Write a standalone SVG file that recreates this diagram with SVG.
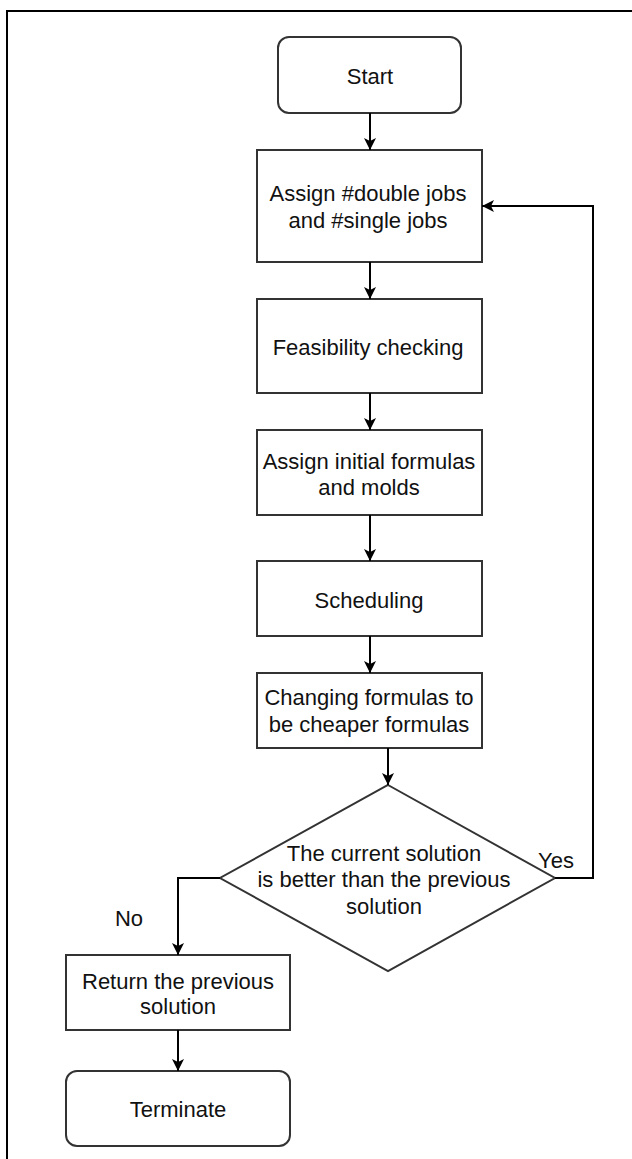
<svg xmlns="http://www.w3.org/2000/svg" width="632" height="1159" viewBox="0 0 632 1159">
<style>
.box{fill:#fff;stroke:#333;stroke-width:2}
.edge{fill:none;stroke:#000;stroke-width:2}
text{font-family:"Liberation Sans",Arial,sans-serif;font-size:22px;fill:#111;text-anchor:middle;dominant-baseline:central}
</style>
<defs>
<marker id="arr" markerWidth="14" markerHeight="14" refX="13" refY="7" orient="auto" markerUnits="userSpaceOnUse">
<path d="M1,1 L13,7 L1,13 L4,7 Z" fill="#000"/>
</marker>
</defs>
<rect x="0" y="0" width="632" height="1159" fill="#fff"/>
<path d="M7,1159 L7,11 L632,11" fill="none" stroke="#000" stroke-width="2"/>
<g id="start"><rect class="box" x="278" y="37" width="183" height="76" rx="11"/><text x="370" y="76">Start</text></g>
<g id="assign-jobs"><rect class="box" x="257" y="150" width="225" height="112"/><text x="368" y="193">Assign #double jobs</text><text x="368" y="220">and #single jobs</text></g>
<g id="feasibility"><rect class="box" x="257" y="299" width="225" height="94"/><text x="368" y="347">Feasibility checking</text></g>
<g id="assign-formulas"><rect class="box" x="257" y="430" width="225" height="85"/><text x="369" y="461">Assign initial formulas</text><text x="369" y="487">and molds</text></g>
<g id="scheduling"><rect class="box" x="257" y="561" width="225" height="75"/><text x="369" y="600">Scheduling</text></g>
<g id="changing"><rect class="box" x="257" y="673" width="225" height="75"/><text x="369" y="697">Changing formulas to</text><text x="369" y="724">be cheaper formulas</text></g>
<g id="decision"><polygon class="box" points="388,785 555,878 388,971 220,878"/><text x="384" y="853">The current solution</text><text x="384" y="879">is better than the previous</text><text x="384" y="906">solution</text></g>
<g id="return"><rect class="box" x="66" y="955" width="224" height="75"/><text x="178" y="981">Return the previous</text><text x="178" y="1006">solution</text></g>
<g id="terminate"><rect class="box" x="66" y="1071" width="224" height="75" rx="11"/><text x="178" y="1109">Terminate</text></g>
<g id="connectors">
<path class="edge" d="M370,113 L370,150" marker-end="url(#arr)"/>
<path class="edge" d="M370,262 L370,299" marker-end="url(#arr)"/>
<path class="edge" d="M370,393 L370,430" marker-end="url(#arr)"/>
<path class="edge" d="M370,515 L370,561" marker-end="url(#arr)"/>
<path class="edge" d="M370,636 L370,673" marker-end="url(#arr)"/>
<path class="edge" d="M388,748 L388,785" marker-end="url(#arr)"/>
<path class="edge" d="M555,878 L593,878 L593,206 L482,206" marker-end="url(#arr)"/>
<path class="edge" d="M220,878 L178,878 L178,955" marker-end="url(#arr)"/>
<path class="edge" d="M178,1030 L178,1071" marker-end="url(#arr)"/>
<text x="556" y="860">Yes</text>
<text x="129" y="918">No</text>
</g>
</svg>
